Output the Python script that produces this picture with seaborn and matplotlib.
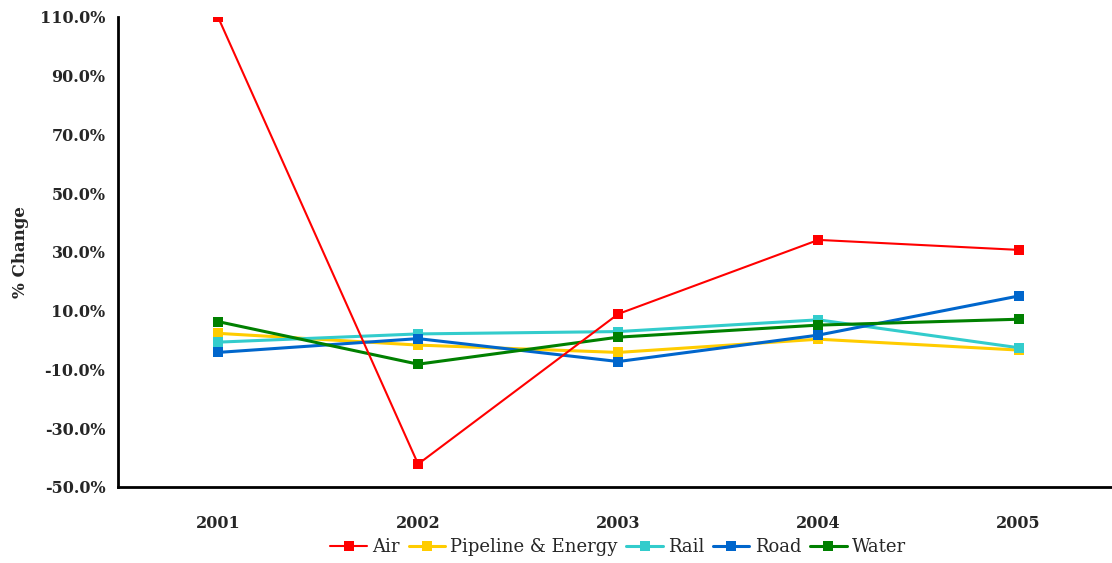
import numpy as np
import pandas as pd
import matplotlib
matplotlib.use("Agg")
import matplotlib.pyplot as plt
import seaborn as sns
from matplotlib.ticker import FuncFormatter

years = ["2001", "2002", "2003", "2004", "2005"]
modes = ["Air", "Pipeline & Energy", "Rail", "Road", "Water"]
air = [110.0, -42.2, 8.9, 34.1, 30.7]
pipeline = [2.3, -1.7, -4.2, 0.3, -3.4]
rail = [-0.7, 2.1, 2.9, 6.9, -2.6]
road = [-4.2, 0.5, -7.3, 1.7, 15.0]
water = [6.3, -8.2, 1.0, 5.1, 7.1]
yticks = [-50, -30, -10, 10, 30, 50, 70, 90, 110]

colors = ["#FF0000", "#FFCC00", "#33CCCC", "#0066CC", "#008000"]

rows = []
for mode, vals in zip(modes, [air, pipeline, rail, road, water]):
    for i, (yr, v) in enumerate(zip(years, vals)):
        rows.append({"x": i, "Year": yr, "Mode": mode, "Change": v})
df = pd.DataFrame(rows)

sns.set_theme(style="white")
plt.rcParams["font.family"] = ["DejaVu Serif"]

fig = plt.figure(figsize=(11.12, 5.63), dpi=100)
ax = fig.add_axes([0.106, 0.135, 0.9, 0.835])

# Air on top, then Water, Road, Rail, Pipeline
layer = {"Air": 9, "Water": 8, "Road": 7, "Rail": 6, "Pipeline & Energy": 5}
widths = {"Air": 1.5, "Pipeline & Energy": 2.2, "Rail": 2.2, "Road": 2.2, "Water": 2.2}
for mode, c in zip(modes, colors):
    sub = df[df["Mode"] == mode]
    sns.lineplot(data=sub, x="x", y="Change", ax=ax, color=c, marker="s",
                 markersize=6.5, markeredgewidth=0, linewidth=widths[mode],
                 label=mode, zorder=layer[mode])

ax.set_xlim(-0.5, 4.5)
ax.set_ylim(-50, 110)
ax.set_xticks(range(len(years)))
ax.set_xticklabels(years)
ax.set_yticks(yticks)
ax.yaxis.set_major_formatter(FuncFormatter(lambda v, p: f"{v:.1f}%"))
for lab in ax.get_xticklabels() + ax.get_yticklabels():
    lab.set_fontweight("bold")
    lab.set_fontsize(11.5)
ax.tick_params(axis="y", direction="out", length=5, width=1.8, color="black", pad=4)
ax.tick_params(axis="x", length=0, pad=20)
ax.set_xlabel("")
ax.set_ylabel("% Change", fontsize=12, fontweight="bold", labelpad=8)

sns.despine(ax=ax)
for s in ["left", "bottom"]:
    ax.spines[s].set_color("black")
    ax.spines[s].set_linewidth(2.0)

ax.legend(loc="center", bbox_to_anchor=(0.5, -0.128), ncol=5,
          frameon=False, fontsize=13, handlelength=2.0, handletextpad=0.3,
          columnspacing=0.5, borderaxespad=0)

fig.savefig("out.png", dpi=100)
